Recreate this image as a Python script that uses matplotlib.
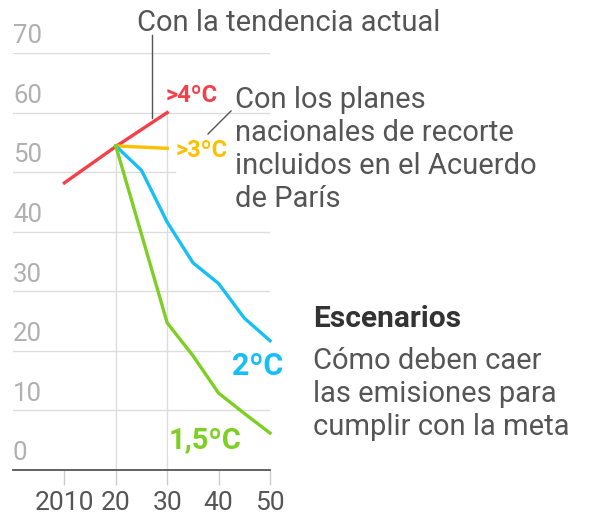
import matplotlib.pyplot as plt
from matplotlib.lines import Line2D
from matplotlib.transforms import offset_copy

plt.rcParams['font.family'] = ['Roboto', 'DejaVu Sans']

# datos (Gt CO2e)
years_red = [2010, 2020, 2030]
vals_red = [48.2, 54.3, 60.0]
years_yellow = [2020, 2030]
vals_yellow = [54.4, 54.0]
years_blue = [2020, 2025, 2030, 2035, 2040, 2045, 2050]
vals_blue = [54.4, 50.3, 41.6, 34.8, 31.3, 25.5, 21.7]
years_green = [2020, 2030, 2035, 2040, 2045, 2050]
vals_green = [54.4, 24.7, 19.2, 12.9, 9.5, 6.2]
y_ticks = [0, 10, 20, 30, 40, 50, 60, 70]
x_ticks = [2010, 2020, 2030, 2040, 2050]
x_labels = ['2010', '20', '30', '40', '50']

W, H = 589, 519
fig = plt.figure(figsize=(W / 100, H / 100), dpi=100)
ax = fig.add_axes([13 / W, 1 - 470 / H, 257 / W, 417 / H])
ax.set_xlim(2000, 2050)
ax.set_ylim(0, 70)

def px(x, y):
    return x / W, 1 - y / H

RED, YEL, BLUE, GREEN = '#f5404a', '#fcc000', '#16bff5', '#7dcf24'
DARK, GRID = '#555555', '#dddddd'

# rejilla
grid_end = {20: 0.845, 50: 0.63}
for v in y_ticks[1:]:
    ax.axhline(v, xmin=0, xmax=grid_end.get(v, 1), color=GRID, lw=1, zorder=0)
ax.plot([2020, 2020], [0, 54.4], color=GRID, lw=1, zorder=0)
ax.plot([2030, 2030], [0, 60], color=GRID, lw=1, zorder=0)

for s in ['top', 'right', 'left']:
    ax.spines[s].set_visible(False)
ax.spines['bottom'].set_color(DARK)
ax.spines['bottom'].set_linewidth(1.3)
ax.set_yticks([])
ax.set_xticks(x_ticks, x_labels)
ax.tick_params(axis='x', length=11, width=1, color='#cccccc', labelcolor=DARK,
               labelsize=19, pad=4)

lab_tr = offset_copy(ax.transData, fig=fig, x=0, y=7, units='points')
for v in y_ticks:
    ax.text(2000, v, str(v), transform=lab_tr, ha='left', va='baseline',
            fontsize=18.5, color='#b0b0b0')

lw = 2.4
ax.plot(years_red, vals_red, color=RED, lw=lw, clip_on=False, zorder=3)
ax.plot(years_yellow, vals_yellow, color=YEL, lw=lw, clip_on=False, zorder=3)
ax.plot(years_blue, vals_blue, color=BLUE, lw=lw, clip_on=False, zorder=3)
ax.plot(years_green, vals_green, color=GREEN, lw=lw, clip_on=False, zorder=3)

# etiquetas
fig.text(*px(166, 102), '>4ºC', color=RED, fontsize=17, fontweight='bold', va='baseline')
fig.text(*px(176, 157), '>3ºC', color=YEL, fontsize=17, fontweight='bold', va='baseline',
         bbox=dict(fc='white', ec='none', pad=1))
fig.text(*px(232, 375), '2ºC', color=BLUE, fontsize=22, fontweight='bold', va='baseline')
fig.text(*px(169, 448), '1,5ºC', color=GREEN, fontsize=21, fontweight='bold', va='baseline',
         bbox=dict(fc='white', ec='none', pad=1))

fig.text(*px(137, 31), 'Con la tendencia actual', color=DARK, fontsize=21, va='baseline')
fig.text(*px(235, 207), 'Con los planes\nnacionales de recorte\nincluidos en el Acuerdo\nde París',
         color=DARK, fontsize=21, va='baseline', linespacing=1.22)
fig.text(*px(313, 327), 'Escenarios', color='#333333', fontsize=21.5, fontweight='bold', va='baseline')
fig.text(*px(313, 435), 'Cómo deben caer\nlas emisiones para\ncumplir con la meta',
         color=DARK, fontsize=21, va='baseline', linespacing=1.22)

for (x0, y0), (x1, y1) in [((152, 35), (152, 118)), ((231, 111), (208, 134))]:
    a, b = px(x0, y0)
    c, d = px(x1, y1)
    fig.add_artist(Line2D([a, c], [b, d], color=DARK, lw=1))

fig.savefig('out.png', dpi=100, facecolor='white')
